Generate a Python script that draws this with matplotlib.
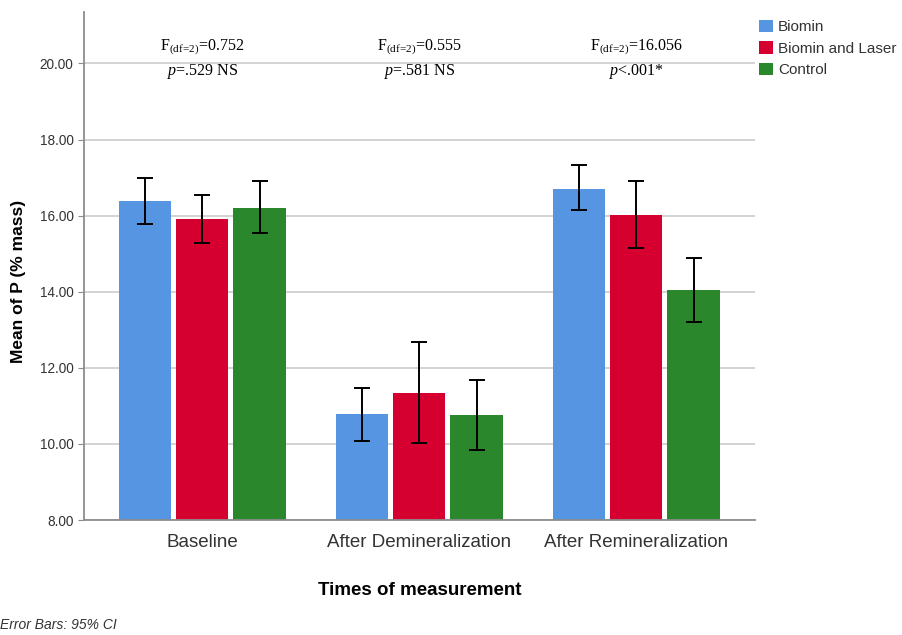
import matplotlib
matplotlib.use("Agg")
import matplotlib.pyplot as plt
import numpy as np

plt.rcParams['font.family'] = 'Liberation Sans'
plt.rcParams['mathtext.fontset'] = 'custom'
plt.rcParams['mathtext.rm'] = 'Liberation Serif'
plt.rcParams['mathtext.it'] = 'Liberation Serif:italic'

""" Data read from the chart """
times = ["Baseline", "After Demineralization", "After Remineralization"]
groups = ["Biomin", "Biomin and Laser", "Control"]
colors = ["#5595E2", "#D5002F", "#2B872B"]

biomin = [16.38, 10.78, 16.71]
biomin_lo = [15.79, 10.09, 16.14]
biomin_hi = [17.00, 11.47, 17.32]

laser = [15.90, 11.35, 16.01]
laser_lo = [15.28, 10.02, 15.14]
laser_hi = [16.54, 12.69, 16.90]

control = [16.21, 10.76, 14.04]
control_lo = [15.54, 9.85, 13.21]
control_hi = [16.90, 11.69, 14.90]

f_values = ["0.752", "0.555", "16.056"]
p_labels = [r"$p$=.529 NS", r"$p$=.581 NS", r"$p$<.001*"]

""" Plot """
fig = plt.figure(figsize=(9.03, 6.35), dpi=100)
ax = fig.add_axes([0.093, 0.181, 0.743, 0.80])

x = np.arange(len(times))
width = 0.24
step = 0.263
series = [(biomin, biomin_lo, biomin_hi), (laser, laser_lo, laser_hi), (control, control_lo, control_hi)]
for i, (vals, lo, hi) in enumerate(series):
    pos = x + (i - 1) * step
    vals = np.array(vals)
    err = [vals - np.array(lo), np.array(hi) - vals]
    ax.bar(pos, vals - 8, width, bottom=8, color=colors[i], label=groups[i], zorder=2)
    ax.errorbar(pos, vals, yerr=err, fmt='none', ecolor='black', elinewidth=1.4,
                capsize=5.5, capthick=1.4, zorder=3)

for i in range(len(times)):
    ftxt = r"F$_{\mathrm{(df\!=\!2)}}$=" + f_values[i]
    ax.text(x[i], 20.42, ftxt, ha='center', va='center', fontsize=11.5,
            family='Liberation Serif', zorder=4)
    ax.text(x[i], 19.8, p_labels[i], ha='center', va='center', fontsize=11.5,
            family='Liberation Serif', zorder=4)

ax.set_ylim(8, 21.35)
ax.set_xlim(-0.546, 2.546)
ax.set_yticks(np.arange(8, 21, 2))
ax.set_yticklabels(["%.2f" % v for v in np.arange(8, 21, 2)])
ax.set_xticks(x)
ax.set_xticklabels(times)
ax.yaxis.grid(True, color='#d0d0d0', linewidth=1.3, zorder=0)
ax.set_axisbelow(True)
for s in ['top', 'right']:
    ax.spines[s].set_visible(False)
for s in ['left', 'bottom']:
    ax.spines[s].set_color('#8c8c8c')
    ax.spines[s].set_linewidth(1.3)
ax.tick_params(axis='y', colors='#8c8c8c', length=4, labelcolor='#333333', labelsize=9.8)
ax.tick_params(axis='x', length=0, pad=10, labelcolor='#333333', labelsize=13.5)

ax.set_ylabel("Mean of P (% mass)", fontsize=12.5, fontweight='bold')
ax.yaxis.set_label_coords(-0.086, 0.47)
ax.set_xlabel("Times of measurement", fontsize=13.5, fontweight='bold', labelpad=22)

leg = ax.legend(loc='upper left', bbox_to_anchor=(1.006, 0.985), frameon=False,
                borderaxespad=0, borderpad=0,
                handlelength=0.9, handleheight=0.9, handletextpad=0.35,
                labelspacing=0.45, prop={'size': 11})
for t in leg.get_texts():
    t.set_color('#333333')

fig.text(0.0, 0.01, "Error Bars: 95% CI", style='italic', fontsize=10, color='#333333')

fig.savefig("out.png", dpi=100)
